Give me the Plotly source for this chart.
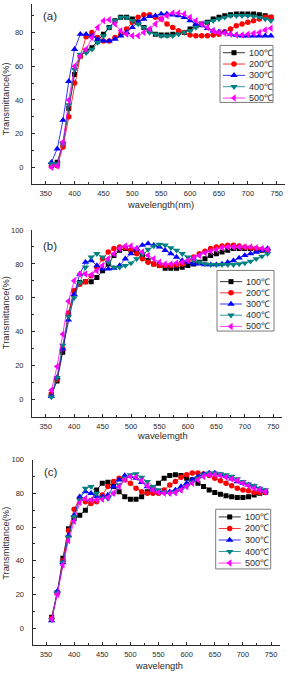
import plotly.graph_objects as go

W, H = 295, 674

wavelength = list(range(360, 750, 10))
temps = ["100℃", "200℃", "300℃", "400℃", "500℃"]
colors = ["#000000", "#ff0000", "#0000ff", "#008080", "#ff00ff"]
symbols = ["square", "circle", "triangle-up", "triangle-down", "triangle-left"]
msizes = [5, 5.5, 6.5, 6.5, 6.5]

a_100 = [1, 3, 14, 35, 55, 66, 69, 71, 75, 79, 83, 87, 89, 89, 88, 86, 83, 81, 79, 78.5, 78.5, 79, 80, 80, 82,
         84, 85, 86, 88, 89, 90, 90.5, 91, 91, 91, 91, 90.5, 90, 89]
a_200 = [1, 1, 12, 30, 50, 66, 77.5, 80, 77, 75, 75, 77, 79, 82, 86, 89, 90.5, 90.5, 89, 88, 85, 83, 81, 80, 78.5,
         78, 78, 78, 78.5, 79, 80.5, 82, 84, 85, 86, 87, 88, 89, 89]
a_300 = [3, 11, 28, 51, 70, 79, 79, 78, 76, 75, 75, 76, 78, 80, 83, 86, 88, 89.5, 90, 91, 91, 90.5, 90, 89, 87,
         85, 84, 82.5, 81, 80.5, 80, 79, 78.5, 78, 78, 78, 78, 78, 78]
a_400 = [2, 2, 14, 37, 58, 67, 68, 70, 74, 78, 83, 87, 89, 89, 87, 85, 83, 80, 79, 78, 78, 78, 79, 80, 81,
         83, 85, 86, 87, 88, 89, 90, 90, 90, 90, 89.5, 89, 88, 87]
a_500 = [0, 1, 15, 40, 60, 66, 70, 77, 83, 87, 87.5, 85, 81, 79, 78, 78, 80, 82, 85, 88, 90, 91.5, 91.5, 91, 89,
         87, 85, 83, 81, 80, 79.5, 79, 78.5, 78.5, 79, 79.5, 80, 81.5, 82.5]

b_100 = [3, 11, 28, 50, 64, 69, 69.5, 69.5, 72, 76, 80, 85, 88, 89, 88, 87, 85, 82, 80, 79, 77.5, 77.5, 77.5, 78, 79,
         80, 81, 83, 85, 86, 87, 88, 89, 89, 89, 89, 88.5, 88, 88]
b_200 = [3, 12, 30, 51, 64, 68, 69.5, 73, 78, 83, 87, 89, 90, 89.5, 88, 86, 83, 81, 80, 79, 79, 79, 79.5, 80, 81.5,
         84, 86, 87.5, 89, 90, 90.5, 91, 91, 90.5, 90, 89.5, 89, 88.5, 88]
b_300 = [2, 13, 30, 47, 62, 74, 81, 82, 79, 77, 77, 77.5, 79, 83, 86, 89, 91, 92, 91, 90, 88, 86, 84, 82, 81,
         80, 80, 79.5, 79.5, 79.5, 80, 81, 82, 83.5, 85, 86, 87, 88, 89]
b_400 = [1.5, 13, 32, 49, 60, 69, 78, 84, 86, 84, 81, 78, 78, 79, 80.5, 83, 86, 88.5, 90.5, 91.5, 91, 89.5, 88, 86, 84,
         82, 81, 80, 79.5, 79.5, 79.5, 79.5, 79.5, 80, 80.5, 81.5, 83, 84.5, 86]
b_500 = [5.5, 19.5, 38.5, 58, 70, 74, 74, 73.5, 76, 79, 83, 86, 89, 90.5, 90.5, 89, 87, 85, 83, 81, 80, 80, 80.5, 81, 82,
         83.5, 85, 86.5, 87.5, 88.5, 89.5, 90, 90, 90, 90, 90, 89.5, 89, 88.5]

c_100 = [6.5, 21, 41.5, 59, 65, 67, 70, 75.5, 82, 86, 86.5, 84, 81, 78, 76.5, 76.5, 78, 81, 83.5, 86, 89, 90.5, 91, 90.5, 89,
         88, 86, 84, 82, 80.5, 79.5, 78.5, 78, 77.5, 77.5, 78, 79, 80, 80.5]
c_200 = [6, 21, 40, 58, 70.5, 77, 75, 74, 75, 79, 84, 87, 89, 88, 86, 83, 81, 80, 80, 80, 82, 85, 87, 89.5, 91,
         92, 92, 91.5, 90.5, 89, 87.5, 86, 84.5, 83, 82, 81.5, 80.5, 80.5, 80.5]
c_300 = [4.5, 22, 39, 55, 67, 78, 81, 80, 78, 78, 79, 84, 88, 90.5, 90, 89, 86.5, 84, 82, 81, 80.5, 81, 82, 84, 86,
         88, 90, 91.5, 92, 92, 91, 90, 88.5, 87, 86, 85, 84, 82.5, 81.5]
c_400 = [5, 21, 39, 54, 66, 76, 83, 84, 80, 77, 77, 80, 85, 89, 91, 91.5, 89.5, 87, 84, 82, 80.5, 80, 80.5, 82, 84,
         86.5, 89, 91, 92, 92, 91.5, 91, 90, 88.5, 87, 85.5, 84.5, 83, 82]
c_500 = [5.5, 20, 37.5, 52, 63.5, 74.5, 77, 76, 76, 76.5, 77.5, 80, 84, 88, 90, 89.5, 87.5, 84.5, 82, 80.5, 80, 80, 80.5, 82, 84,
         86, 88, 90, 91, 91, 90.5, 89.5, 88.5, 87.5, 86, 84.5, 83, 82, 81]

x_ticks = [350, 400, 450, 500, 550, 600, 650, 700, 750]
y_ticks = [0, 20, 40, 60, 80, 100]

panels = [
    dict(tag="(a)", xtitle="wavelength(nm)", series=[a_100, a_200, a_300, a_400, a_500],
         xpx=(31.8, 285.4), ypx=(0.0, 181.25), yr=(-10, 96.9),
         label=(50, 12), xt=(161, 202), yt=(6, 96),
         leg=dict(box=(220, 41.7, 273, 99), y0=49.0, dy=11.4)),
    dict(tag="(b)", xtitle="wavelemgth", series=[b_100, b_200, b_300, b_400, b_500],
         xpx=(32.0, 281.8), ypx=(227.3, 415.1), yr=(-10, 100),
         label=(50, 243), xt=(163, 435), yt=(6, 311),
         leg=dict(box=(217, 268, 274, 329), y0=279.3, dy=11.25)),
    dict(tag="(c)", xtitle="wavelength", series=[c_100, c_200, c_300, c_400, c_500],
         xpx=(32.5, 279.5), ypx=(458.3, 645.0), yr=(-10, 100),
         label=(51, 471), xt=(159, 666), yt=(6, 543),
         leg=dict(box=(215.7, 508.3, 270.7, 568.3), y0=516.0, dy=11.6)),
]

FONT = "Liberation Sans, Arial, sans-serif"
AX = "#2b2b2b"

fig = go.Figure()
annotations = []
shapes = []
layout = dict(width=W, height=H, margin=dict(l=0, r=0, t=0, b=0),
              paper_bgcolor="white", plot_bgcolor="rgba(0,0,0,0)", showlegend=False,
              font=dict(family=FONT, color=AX))


def note(text, x, y, size, ref=("paper", "paper"), angle=0, xanchor="center"):
    if ref[0] == "paper":
        x, y = x / W, 1 - y / H
    return dict(text=text, x=x, y=y, xref=ref[0], yref=ref[1], showarrow=False,
                xanchor=xanchor, yanchor="middle", textangle=angle,
                font=dict(size=size, color=AX, family=FONT))


for i, p in enumerate(panels):
    n = "" if i == 0 else str(i + 1)
    xa, ya = "x" + n, "y" + n
    for s, vals in enumerate(p["series"]):
        fig.add_trace(go.Scatter(
            x=wavelength, y=vals, xaxis=xa, yaxis=ya, mode="lines+markers",
            line=dict(color=colors[s], width=0.8),
            marker=dict(symbol=symbols[s], size=msizes[s], color=colors[s], line=dict(width=0)),
            name=temps[s]))
    layout["xaxis" + n] = dict(
        domain=[p["xpx"][0] / W, p["xpx"][1] / W], anchor=ya, range=[326, 765],
        tickvals=x_ticks, ticks="inside", ticklen=3, tickwidth=0.8, tickcolor=AX,
        minor=dict(dtick=25, tick0=325, ticks="inside", ticklen=2, tickwidth=0.8, tickcolor=AX),
        showline=True, linecolor=AX, linewidth=1, showgrid=False, zeroline=False,
        tickfont=dict(size=7.5, color=AX, family=FONT), ticklabelstandoff=2)
    layout["yaxis" + n] = dict(
        domain=[1 - p["ypx"][1] / H, 1 - p["ypx"][0] / H], anchor=xa, range=list(p["yr"]),
        tickvals=y_ticks, ticks="inside", ticklen=3, tickwidth=0.8, tickcolor=AX,
        minor=dict(dtick=10, tick0=0, ticks="inside", ticklen=2, tickwidth=0.8, tickcolor=AX),
        showline=True, linecolor=AX, linewidth=1, showgrid=False, zeroline=False,
        tickfont=dict(size=7.5, color=AX, family=FONT), ticklabelstandoff=6)
    annotations.append(note(p["tag"], p["label"][0], p["label"][1], 11.5))
    annotations.append(note(p["xtitle"], p["xt"][0], p["xt"][1], 9.3))
    annotations.append(note("Transmittance(%)", p["yt"][0], p["yt"][1], 9.3, angle=-90))

    # legend drawn on a pixel overlay axis
    lg = p["leg"]
    bx0, by0, bx1, by1 = lg["box"]
    shapes.append(dict(type="rect", xref="x4", yref="y4", x0=bx0, y0=by0, x1=bx1, y1=by1,
                       line=dict(color="#7a7a7a", width=1), fillcolor="white", layer="below"))
    lx0, lx1 = bx0 + 3, bx0 + 25
    for s in range(5):
        yy = lg["y0"] + s * lg["dy"]
        fig.add_trace(go.Scatter(x=[lx0, lx1], y=[yy, yy], xaxis="x4", yaxis="y4", mode="lines",
                                 line=dict(color=colors[s], width=0.8), hoverinfo="skip"))
        fig.add_trace(go.Scatter(x=[(lx0 + lx1) / 2], y=[yy], xaxis="x4", yaxis="y4", mode="markers",
                                 marker=dict(symbol=symbols[s], size=msizes[s], color=colors[s], line=dict(width=0)),
                                 hoverinfo="skip"))
        annotations.append(note(temps[s], lx1 + 2, yy, 9, ref=("x4", "y4"), xanchor="left"))

layout["xaxis4"] = dict(domain=[0, 1], anchor="y4", range=[0, W], visible=False, fixedrange=True)
layout["yaxis4"] = dict(domain=[0, 1], anchor="x4", range=[H, 0], visible=False, fixedrange=True)
layout["annotations"] = annotations
layout["shapes"] = shapes
fig.update_layout(**layout)
fig.write_html("out.html")
